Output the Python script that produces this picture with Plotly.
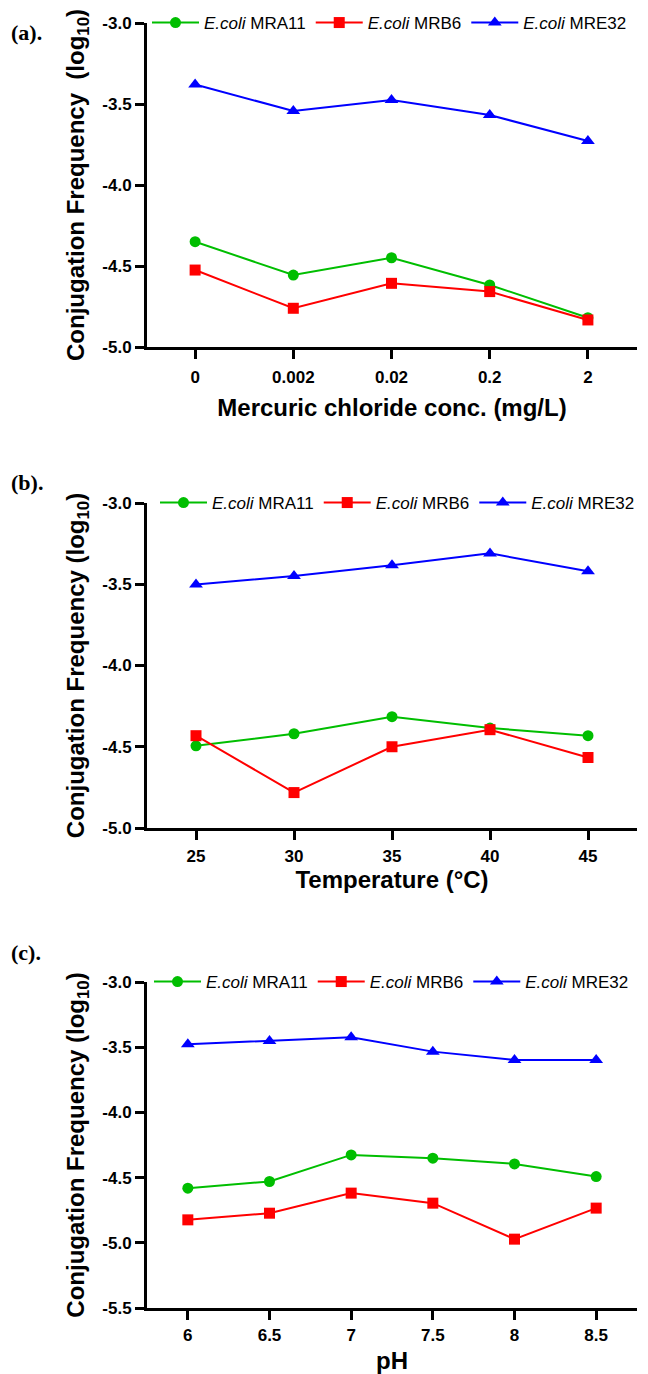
import plotly.graph_objects as go

# page body has an 8px margin; the figure is sized so it fits the 648x1374 window
OFF = 8
W, H = 648 - OFF, 1374 - OFF
ML, MR, MT, MB = 147 - OFF, 11, 23 - OFF, 66
PW, PH = W - ML - MR, H - MT - MB

def px_x(p):
    return (p - OFF - ML) / PW

def px_y(p):
    return (H - MB - (p - OFF)) / PH

# ---------------- data ----------------
strain_names = ["<i>E.coli</i> MRA11", "<i>E.coli</i> MRB6", "<i>E.coli</i> MRE32"]
colors = ["#00BE00", "#FF0000", "#0000FF"]
symbols = ["circle", "square", "triangle-up"]

# (a) mercuric chloride
hg_conc = ["0", "0.002", "0.02", "0.2", "2"]
hg_MRA11 = [-4.35, -4.556, -4.449, -4.617, -4.819]
hg_MRB6 = [-4.525, -4.761, -4.607, -4.658, -4.833]
hg_MRE32 = [-3.38, -3.543, -3.475, -3.568, -3.728]

# (b) temperature
temp = [25, 30, 35, 40, 45]
t_MRA11 = [-4.494, -4.42, -4.315, -4.385, -4.432]
t_MRB6 = [-4.432, -4.782, -4.50, -4.395, -4.566]
t_MRE32 = [-3.502, -3.449, -3.383, -3.31, -3.42]

# (c) pH
ph = [6, 6.5, 7, 7.5, 8, 8.5]
p_MRA11 = [-4.581, -4.530, -4.326, -4.351, -4.395, -4.492]
p_MRB6 = [-4.824, -4.773, -4.619, -4.696, -4.972, -4.734]
p_MRE32 = [-3.477, -3.452, -3.424, -3.534, -3.598, -3.598]

yticks_ab = [-5.0, -4.5, -4.0, -3.5, -3.0]
yticktext_ab = ["-5.0", "-4.5", "-4.0", "-3.5", "-3.0"]
yticks_c = [-5.5, -5.0, -4.5, -4.0, -3.5, -3.0]
yticktext_c = ["-5.5", "-5.0", "-4.5", "-4.0", "-3.5", "-3.0"]
ph_ticktext = ["6", "6.5", "7", "7.5", "8", "8.5"]

panels = [
    dict(x=hg_conc, ys=[hg_MRA11, hg_MRB6, hg_MRE32], xa="x", ya="y", leg="legend"),
    dict(x=temp, ys=[t_MRA11, t_MRB6, t_MRE32], xa="x2", ya="y2", leg="legend2"),
    dict(x=ph, ys=[p_MRA11, p_MRB6, p_MRE32], xa="x3", ya="y3", leg="legend3"),
]

fig = go.Figure()
for p in panels:
    for name, ys, c, s in zip(strain_names, p["ys"], colors, symbols):
        fig.add_trace(go.Scatter(
            x=p["x"], y=ys, name=name, mode="lines+markers",
            line=dict(color=c, width=2),
            marker=dict(color=c, symbol=s, size=11 if s != "triangle-up" else 12),
            xaxis=p["xa"], yaxis=p["ya"], legend=p["leg"], showlegend=True,
        ))

FONT = "Liberation Sans"
tickfont = dict(family=FONT, size=17, color="black", weight="bold")
titlefont = dict(family=FONT, size=24, color="black", weight="bold")

axis_common = dict(
    showline=True, linewidth=3, linecolor="black", ticks="outside",
    ticklen=9, tickwidth=3, tickcolor="black", showgrid=False, zeroline=False,
    tickfont=tickfont, mirror=False,
)

dom_a = [px_y(347), px_y(23)]
dom_b = [px_y(828), px_y(503)]
dom_c = [px_y(1308), px_y(982)]

fig.update_layout(
    width=W, height=H,
    margin=dict(l=ML, r=MR, t=MT, b=MB, autoexpand=False),
    plot_bgcolor="white", paper_bgcolor="white",
    xaxis=dict(axis_common, type="category", range=[-0.49, 4.5], anchor="y",
               domain=[0, 1], ticklabelstandoff=4,
               title=dict(text="Mercuric chloride conc. (mg/L)", font=titlefont, standoff=13)),
    yaxis=dict(axis_common, range=[-5.0, -3.0], domain=dom_a, anchor="x",
               tickvals=yticks_ab, ticktext=yticktext_ab,
               title=dict(text="Conjugation Frequency  (log<sub>10</sub>)", font=titlefont, standoff=11)),
    xaxis2=dict(axis_common, range=[22.5, 47.5], anchor="y2", domain=[0, 1],
                tickvals=temp, ticktext=[str(t) for t in temp], ticklabelstandoff=2,
                title=dict(text="Temperature (°C)", font=titlefont, standoff=3)),
    yaxis2=dict(axis_common, range=[-5.0, -3.0], domain=dom_b, anchor="x2",
                tickvals=yticks_ab, ticktext=yticktext_ab,
                title=dict(text="Conjugation Frequency (log<sub>10</sub>)", font=titlefont, standoff=11)),
    xaxis3=dict(axis_common, range=[5.75, 8.75], anchor="y3", domain=[0, 1],
                tickvals=ph, ticktext=ph_ticktext, ticklabelstandoff=1,
                title=dict(text="pH", font=titlefont, standoff=8)),
    yaxis3=dict(axis_common, range=[-5.5, -3.0], domain=dom_c, anchor="x3",
                tickvals=yticks_c, ticktext=yticktext_c,
                title=dict(text="Conjugation Frequency (log<sub>10</sub>)", font=titlefont, standoff=11)),
)

legfont = dict(family=FONT, size=17, color="black")
leg_common = dict(orientation="h", xanchor="left", yanchor="middle",
                  font=legfont, bgcolor="rgba(0,0,0,0)", borderwidth=0,
                  itemwidth=47, tracegroupgap=0)
fig.update_layout(
    legend=dict(leg_common, x=max(0.0, px_x(146)), y=px_y(23)),
    legend2=dict(leg_common, x=px_x(155), y=px_y(503)),
    legend3=dict(leg_common, x=px_x(149), y=px_y(982)),
)

labels = [("(a).", 33), ("(b).", 483), ("(c).", 952)]
for txt, yp in labels:
    fig.add_annotation(text=txt, xref="paper", yref="paper", x=px_x(9), y=px_y(yp),
                       xanchor="left", yanchor="middle", showarrow=False,
                       font=dict(family="Liberation Serif", size=22, color="black", weight="bold"))

fig.write_html("out.html")
